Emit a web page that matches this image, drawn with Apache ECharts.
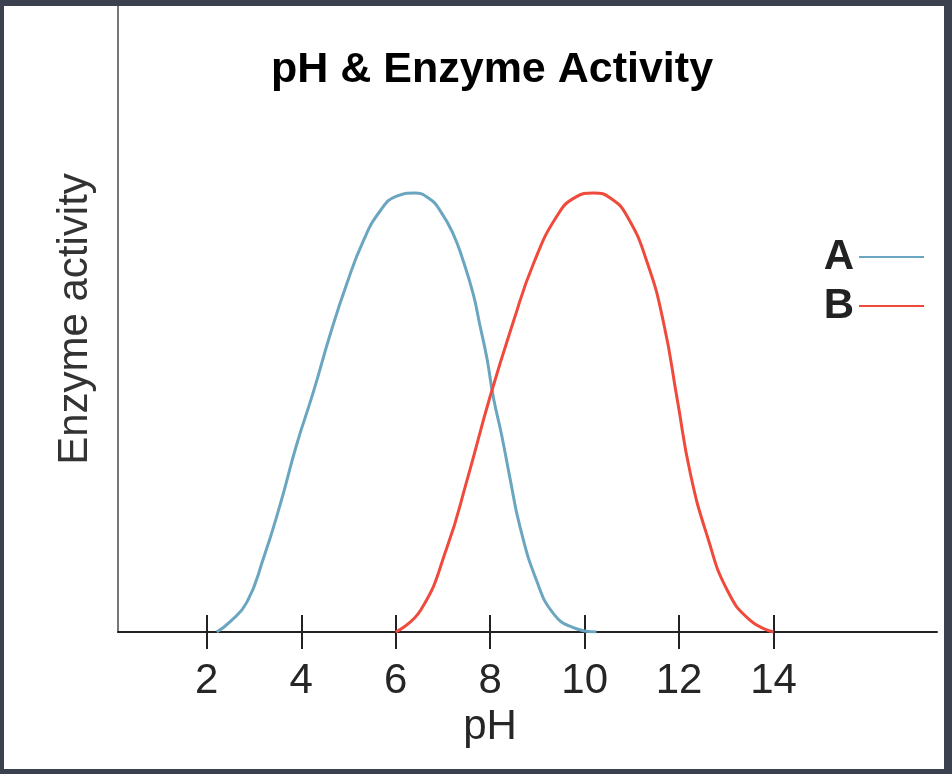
<!DOCTYPE html>
<html>
<head>
<meta charset="utf-8">
<title>pH & Enzyme Activity</title>
<script src="https://cdn.jsdelivr.net/npm/echarts@6/dist/echarts.min.js"></script>
<style>
  html, body { margin: 0; padding: 0; background: #3c4150; }
  #main { position: absolute; left: 4px; top: 6px; width: 940px; height: 763px; background: #fff; }
</style>
</head>
<body>
<div id="main"></div>
<script>
// enzyme A: pH and relative activity (% of peak)
var phA = [2.21, 2.49, 2.85, 3.2, 3.55, 3.9, 4.26, 4.61, 4.96, 5.31, 5.67, 6.02, 6.4, 6.7, 6.94, 7.22, 7.43, 7.64, 7.78, 7.93, 8.07, 8.24, 8.42, 8.63, 8.98, 9.34, 9.76, 10.25];
var actA = [0, 2.3, 6.8, 16.8, 28.9, 42.6, 54.8, 67.7, 79.2, 89, 95.9, 99.3, 100, 98.8, 96, 90.6, 84.5, 77, 70, 62.4, 53.3, 45, 35, 24, 11.8, 4.2, 1, 0];

// enzyme B
var phB = [6.0, 6.53, 7.09, 7.51, 8.0, 8.5, 8.92, 9.41, 9.8, 10.19, 10.55, 10.9, 11.33, 11.68, 11.96, 12.24, 12.6, 13.02, 13.5, 14.0];
var actB = [0, 5, 19.4, 34.6, 53.7, 71, 84, 94.7, 99, 100, 98.8, 94.7, 84, 70, 53, 36, 21.7, 9.5, 2.7, 0];

var tickValues = [2, 4, 6, 8, 10, 12, 14];

function pairs(xs, ys) {
    return xs.map(function (x, i) { return [x, ys[i]]; });
}

var font = 'Liberation Sans, Arial, sans-serif';

var option = {
    animation: false,
    textStyle: { fontFamily: font },
    title: {
        text: 'pH & Enzyme Activity',
        left: 262,
        top: 38,
        textStyle: { fontSize: 43, fontWeight: 'bold', color: '#000', fontFamily: font }
    },
    legend: {
        data: ['A', 'B'],
        orient: 'vertical',
        right: 15,
        top: 225,
        align: 'right',
        icon: 'rect',
        itemWidth: 65,
        itemHeight: 2,
        itemGap: 7,
        textStyle: { fontSize: 42, fontWeight: 'bold', color: '#222', lineHeight: 42, fontFamily: font }
    },
    grid: { left: 114, right: 7, top: 0, bottom: 137 },
    xAxis: [{
        type: 'value',
        min: 0.12,
        max: 17.46,
        position: 'bottom',
        splitLine: { show: false },
        axisLine: { show: true, lineStyle: { color: '#222', width: 2 } },
        axisTick: {
            show: true, length: 17, customValues: tickValues,
            lineStyle: { color: '#222', width: 2 }
        },
        axisLabel: {
            customValues: tickValues, margin: 28,
            fontSize: 42, color: '#262626', fontFamily: font
        },
        name: 'pH',
        nameLocation: 'middle',
        nameGap: 72,
        nameTextStyle: { fontSize: 42, color: '#262626', padding: [0, 75, 0, 0], fontFamily: font }
    }, {
        // upper half of the crossing ticks
        type: 'value',
        min: 0.12,
        max: 17.46,
        position: 'bottom',
        splitLine: { show: false },
        axisLine: { show: false },
        axisTick: {
            show: true, inside: true, length: 17, customValues: tickValues,
            lineStyle: { color: '#222', width: 2 }
        },
        axisLabel: { show: false }
    }],
    yAxis: {
        type: 'value',
        min: 0,
        max: 142.6,
        splitLine: { show: false },
        axisTick: { show: false },
        axisLabel: { show: false },
        axisLine: { show: true, lineStyle: { color: '#777', width: 2 } },
        name: 'Enzyme activity',
        nameLocation: 'middle',
        nameGap: 22,
        nameRotate: 90,
        nameTextStyle: { fontSize: 42, color: '#333', fontFamily: font }
    },
    series: [{
        name: 'A',
        type: 'line',
        xAxisIndex: 0,
        smooth: 0.5,
        symbol: 'none',
        color: '#6aa6c0',
        lineStyle: { width: 3, color: '#6aa6c0' },
        data: pairs(phA, actA)
    }, {
        name: 'B',
        type: 'line',
        xAxisIndex: 0,
        smooth: 0.5,
        symbol: 'none',
        color: '#f04a3c',
        lineStyle: { width: 3, color: '#f04a3c' },
        data: pairs(phB, actB)
    }]
};

var chart = echarts.init(document.getElementById('main'));
chart.setOption(option);
window.addEventListener('resize', function () { chart.resize(); });
</script>
</body>
</html>
